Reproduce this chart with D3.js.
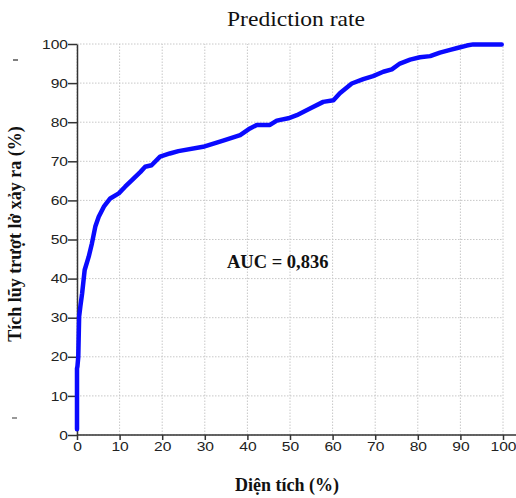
<!DOCTYPE html>
<html><head><meta charset="utf-8">
<script src="https://cdn.jsdelivr.net/npm/d3@7/dist/d3.min.js"></script>
<style>body{margin:0;background:#fff}svg{display:block}</style>
</head><body>
<svg id="c" width="516" height="498"></svg>
<script>
const areaPct = [0, 0, 0.1, 0.3, 0.5, 0.8, 1.2, 1.8, 2.75, 3.5, 4.3, 5.1, 6.3, 7.8, 9.8, 11.3, 12.9, 14.9, 16, 17.5, 19.5, 21.8, 23.8, 29.6, 34.3, 38.3, 40.6, 42.2, 45.3, 46.9, 49.6, 51.6, 54.7, 57.8, 60.2, 61.7, 64.5, 67.2, 69.5, 71.9, 73.9, 75.8, 78.2, 80.5, 82.9, 85.2, 87.6, 89.5, 91.5, 93, 99.7];
const cumLandslide = [1.5, 17, 17.5, 20, 30.3, 33, 36.2, 42.2, 45.6, 49, 53.3, 55.8, 58.4, 60.5, 61.8, 63.5, 65.2, 67.3, 68.6, 69, 71.2, 72, 72.6, 73.7, 75.3, 76.7, 78.4, 79.3, 79.3, 80.4, 81, 81.8, 83.5, 85.2, 85.6, 87.4, 89.9, 91, 91.8, 92.9, 93.5, 95, 96, 96.6, 96.9, 97.8, 98.5, 99.05, 99.6, 99.9, 99.9];
const tickValues = [0, 10, 20, 30, 40, 50, 60, 70, 80, 90, 100];
const titleText = "Prediction rate";
const xLabel = "Diện tích (%)";
const yLabel = "Tích lũy trượt lở xảy ra (%)";
const aucText = "AUC = 0,836";

const svg = d3.select("#c");
const x = d3.scaleLinear().domain([0, 100]).range([77, 503]);
const y = d3.scaleLinear().domain([0, 100]).range([435, 44]);

// grid
const grid = svg.append("g").attr("stroke", "#c8c8c8").attr("stroke-width", 1).attr("stroke-dasharray", "1.5,1.5");
tickValues.forEach(t => {
  grid.append("line").attr("x1", x(t)).attr("x2", x(t)).attr("y1", y(0)).attr("y2", y(100));
  grid.append("line").attr("x1", x(0)).attr("x2", x(100)).attr("y1", y(t)).attr("y2", y(t));
});

// axes
const ax = svg.append("g").attr("transform", `translate(0,${y(0)})`)
  .call(d3.axisBottom(x).tickValues(tickValues).tickSize(5).tickPadding(2).tickSizeOuter(0));
const ay = svg.append("g").attr("transform", `translate(${x(0)},0)`)
  .call(d3.axisLeft(y).tickValues(tickValues).tickSize(9).tickPadding(1).tickSizeOuter(0));
[ax, ay].forEach(a => {
  a.select(".domain").attr("stroke", "#333").attr("stroke-width", 1.5);
  a.selectAll(".tick line").attr("stroke", "#333").attr("stroke-width", 1.5);
  a.selectAll(".tick text").attr("font-family", "Liberation Sans, Arial, sans-serif")
    .attr("font-size", 13).attr("fill", "#222");
});
ax.select(".domain").attr("d", `M${x(0)},0H516`);
ax.selectAll(".tick text").attr("transform", "scale(1.2,1)");
ay.selectAll(".tick text").attr("transform", "scale(1.2,1)").attr("x", -9/1.2);

// curve
svg.append("path")
  .datum(areaPct.map((d, i) => [d, cumLandslide[i]]))
  .attr("fill", "none").attr("stroke", "#0a0aff").attr("stroke-width", 4.5)
  .attr("stroke-linejoin", "round").attr("stroke-linecap", "round")
  .attr("d", d3.line().x(d => x(d[0])).y(d => y(d[1])));

// texts
svg.append("text").attr("x", 296).attr("y", 26).attr("text-anchor", "middle")
  .attr("font-family", "Liberation Serif, Times New Roman, serif").attr("font-size", 21)
  .attr("textLength", 138).attr("lengthAdjust", "spacingAndGlyphs").attr("fill", "#111").text(titleText);
svg.append("text").attr("x", 287).attr("y", 491).attr("text-anchor", "middle")
  .attr("font-family", "Liberation Serif, Times New Roman, serif").attr("font-size", 18).attr("font-weight", "bold")
  .attr("fill", "#111").text(xLabel);
svg.append("text").attr("transform", "translate(21,234) rotate(-90)").attr("text-anchor", "middle")
  .attr("font-family", "Liberation Serif, Times New Roman, serif").attr("font-size", 18).attr("font-weight", "bold")
  .attr("fill", "#111").text(yLabel);
svg.append("text").attr("x", 227).attr("y", 268)
  .attr("font-family", "Liberation Serif, Times New Roman, serif").attr("font-size", 18.5).attr("font-weight", "bold")
  .attr("fill", "#111").text(aucText);

// small stray marks at left edge
svg.append("line").attr("x1", 13).attr("x2", 18).attr("y1", 60).attr("y2", 60).attr("stroke", "#555").attr("stroke-width", 1.5);
svg.append("line").attr("x1", 12).attr("x2", 17).attr("y1", 418).attr("y2", 418).attr("stroke", "#777").attr("stroke-width", 1.5);
</script>
</body></html>
